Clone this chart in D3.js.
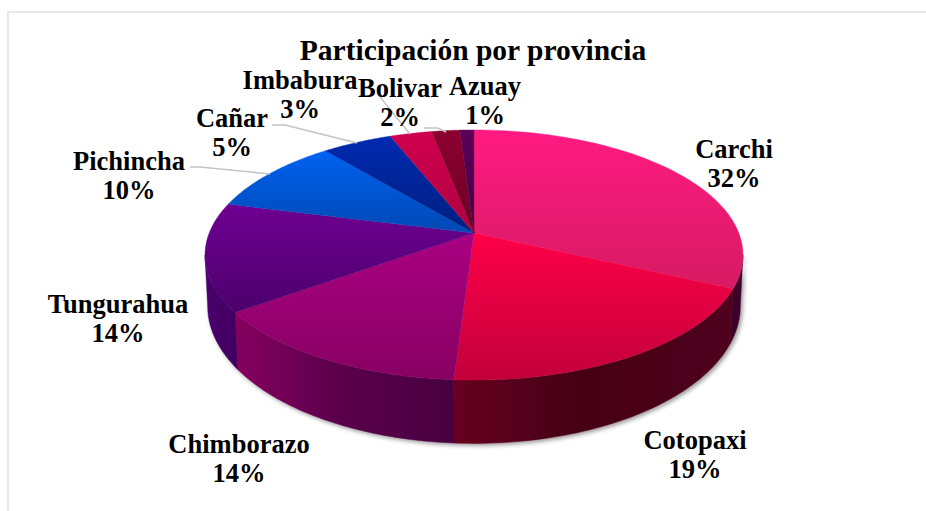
<!DOCTYPE html>
<html><head><meta charset="utf-8">
<script src="https://cdn.jsdelivr.net/npm/d3@7"></script>
<style>html,body{margin:0;padding:0;background:#fff}svg{display:block}
text{font-family:"Liberation Serif","Times New Roman",serif;font-weight:bold;fill:#000;text-anchor:middle}</style>
</head><body><svg id="c" width="926" height="511"></svg>
<script>
const categories=["Carchi","Cotopaxi","Chimborazo","Tungurahua","Pichincha","Cañar","Imbabura","Bolivar","Azuay"];
const values=[32,19,14,14,10,5,3,2,1];
const titleText="Participación por provincia";
const topBright=["#ff1a82","#ff0049","#aa0082","#6e0092","#0062f0","#002ab0","#d0004e","#8c0030","#5c0058"];
const topDark=["#d61b62","#c2003a","#880062","#4c006c","#0048b4","#001f80","#b00040","#6c0024","#440044"];
const sideLight=["#420030","#6e0020","#860060","#4a006c","#003080","#001858","#700028","#500018","#300030"];
const sideDark=["#3a0028","#42001a","#480040","#420060","#002060","#001040","#500020","#380010","#200020"];
const labelX=[734,695,239,118,129,232,300,400,485];
const labelY=[158,449,453,313,170,127,89,97,95];
const leaders=[null,null,null,null,[[190,167],[200,167],[270,174]],[[272,125],[285,125],[357,143]],null,[[380,97],[410,134]],[[424,128],[438,128],[446,132]]];

const svg=d3.select("#c");
const defs=svg.append("defs");
const f=defs.append("filter").attr("id","sh").attr("x","-10%").attr("y","-10%").attr("width","120%").attr("height","125%");
f.append("feDropShadow").attr("dx",2).attr("dy",2).attr("stdDeviation",2.2).attr("flood-color","#000").attr("flood-opacity",.4);

// frame
svg.append("path").attr("d","M8 511V12H926").attr("fill","none").attr("stroke","#e8e8e8").attr("stroke-width",2);

// perspective projection of the disc (theta clockwise from the top)
const cx=474,y0=233,k=.176,a=264.8,b=121.2;
const sBottom=.99,y0b=282,bb=133;
const topPt=t=>{const u=Math.sin(t),v=Math.cos(t),d=1+k*v;return [cx+a*u/d,y0-b*v/d];};
const botPt=t=>{const u=Math.sin(t),v=Math.cos(t),d=1+k*v;return [cx+sBottom*a*u/d,y0b-bb*v/d];};
const arcs=d3.pie().sort(null).value(d=>d)(values);
const samples=(s,e)=>d3.range(0,61).map(i=>s+(e-s)*i/60);
const line=d3.line();

// sides: only the front half (between the horizon angles) is visible
const hA=Math.acos(-k);
const frontStart=hA, frontEnd=2*Math.PI-hA;
const sides=svg.append("g").attr("filter","url(#sh)");
arcs.forEach((d,i)=>{
  const s=Math.max(d.startAngle,frontStart),e=Math.min(d.endAngle,frontEnd);
  if(e<=s) return;
  const ts=samples(s,e);
  const pts=ts.map(topPt).concat(ts.slice().reverse().map(botPt));
  const ex=d3.extent(pts,p=>p[0]);
  const id="s"+i;
  const g=defs.append("linearGradient").attr("id",id).attr("gradientUnits","userSpaceOnUse")
    .attr("x1",i===2||i===3?ex[0]:ex[1]).attr("x2",i===2||i===3?ex[1]:ex[0]).attr("y1",0).attr("y2",0);
  if(i===1){ g.attr("x1",ex[0]).attr("x2",ex[1]);
    g.append("stop").attr("offset",0).attr("stop-color","#680020");
    g.append("stop").attr("offset",.45).attr("stop-color","#440016");
    g.append("stop").attr("offset",1).attr("stop-color","#50001c");
  } else {
    g.append("stop").attr("offset",0).attr("stop-color",sideLight[i]);
    if(i===2) g.append("stop").attr("offset",.45).attr("stop-color","#5c004c");
    g.append("stop").attr("offset",1).attr("stop-color",sideDark[i]);
  }
  sides.append("path").attr("d",line(pts)+"Z").attr("fill",`url(#${id})`).attr("stroke",`url(#${id})`).attr("stroke-width",.5);
});

// top face
arcs.forEach((d,i)=>{
  const pts=samples(d.startAngle,d.endAngle).map(topPt);
  pts.push([cx,y0]);
  const ey=d3.extent(pts,p=>p[1]);
  const id="t"+i;
  const g=defs.append("linearGradient").attr("id",id).attr("gradientUnits","userSpaceOnUse")
    .attr("x1",0).attr("x2",0).attr("y1",ey[0]).attr("y2",ey[1]);
  g.append("stop").attr("offset",0).attr("stop-color",topBright[i]);
  g.append("stop").attr("offset",1).attr("stop-color",topDark[i]);
  svg.append("path").attr("d",line(pts)+"Z").attr("fill",`url(#${id})`).attr("stroke",`url(#${id})`).attr("stroke-width",.4);
});

// leaders
leaders.forEach(l=>{ if(l) svg.append("path").attr("d",line(l)).attr("fill","none").attr("stroke","#c4c4c4").attr("stroke-width",1.5); });

// text
svg.append("text").attr("x",473).attr("y",60).attr("font-size",29.5).text(titleText);
categories.forEach((c,i)=>{
  svg.append("text").attr("x",labelX[i]).attr("y",labelY[i]).attr("font-size",26.5).text(c);
  svg.append("text").attr("x",labelX[i]).attr("y",labelY[i]+29).attr("font-size",26.5).text(values[i]+"%");
});
</script></body></html>
